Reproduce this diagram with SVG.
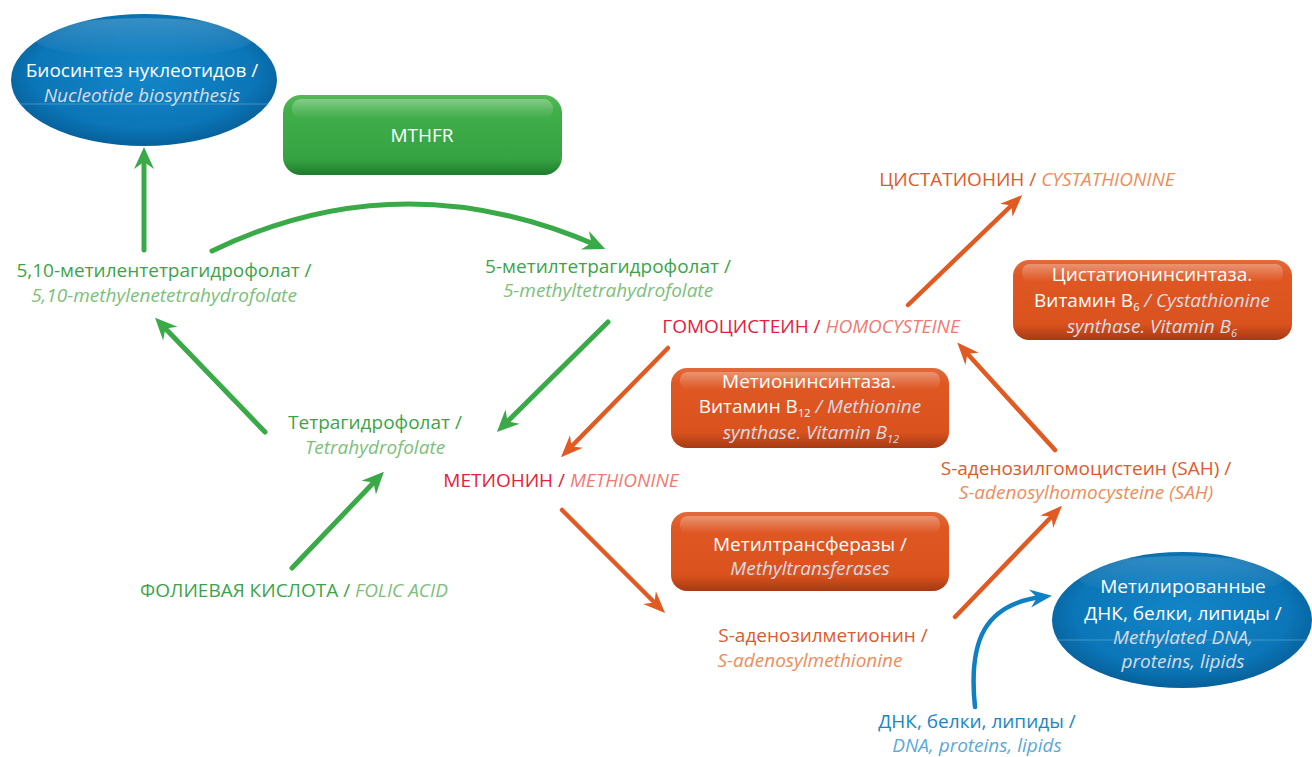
<svg xmlns="http://www.w3.org/2000/svg" width="1312" height="757" viewBox="0 0 1312 757">
<defs>
<style>
text{font-family:"Open Sans","Noto Sans","Liberation Sans",sans-serif;font-size:19px;text-anchor:middle}
.it{font-style:italic}
.gd{fill:#3aa548}.gl{fill:#7cc07a}
.rd{fill:#e4203c}.rl{fill:#f07a72}
.od{fill:#e05a2a}.ol{fill:#ef8c5a}
.bd{fill:#1a86c4}.bl{fill:#5aa9d8}
.w{fill:#ffffff}.wl{fill:#d9dde3}
.sub{font-size:11px}
.ga{fill:none;stroke:#3aaa48;stroke-width:5;stroke-linecap:round}
.oa{fill:none;stroke:#e05a22;stroke-width:4.5;stroke-linecap:round}
.ba{fill:none;stroke:#1180c2;stroke-width:4.5;stroke-linecap:round}
</style>
<marker id="mg" markerUnits="userSpaceOnUse" viewBox="-24 -12 26 24" refX="-10" refY="0" markerWidth="26" markerHeight="24" orient="auto"><path d="M0,0 L-22,-10 L-15,0 L-22,10 Z" fill="#3aaa48"/></marker>
<marker id="mo" markerUnits="userSpaceOnUse" viewBox="-24 -12 26 24" refX="-10" refY="0" markerWidth="26" markerHeight="24" orient="auto"><path d="M0,0 L-22,-9 L-15,0 L-22,9 Z" fill="#e05a22"/></marker>
<marker id="mb" markerUnits="userSpaceOnUse" viewBox="-24 -12 26 24" refX="-10" refY="0" markerWidth="26" markerHeight="24" orient="auto"><path d="M0,0 L-22,-9 L-15,0 L-22,9 Z" fill="#1180c2"/></marker>
<linearGradient id="gG" x1="0" y1="0" x2="0" y2="1">
<stop offset="0" stop-color="#55b955"/><stop offset="0.2" stop-color="#40ae49"/><stop offset="0.8" stop-color="#36a343"/><stop offset="1" stop-color="#1f7a2c"/>
</linearGradient>
<linearGradient id="gO" x1="0" y1="0" x2="0" y2="1">
<stop offset="0" stop-color="#e36a3a"/><stop offset="0.2" stop-color="#df5723"/><stop offset="0.8" stop-color="#da521d"/><stop offset="1" stop-color="#a53a14"/>
</linearGradient>
<linearGradient id="gH" x1="0" y1="0" x2="0" y2="1">
<stop offset="0" stop-color="#ffffff" stop-opacity="0.3"/><stop offset="1" stop-color="#ffffff" stop-opacity="0"/>
</linearGradient>
<radialGradient id="gB" cx="0.5" cy="0.45" r="0.55">
<stop offset="0" stop-color="#1386c8"/><stop offset="0.75" stop-color="#0b76b8"/><stop offset="1" stop-color="#07609a"/>
</radialGradient>
</defs>

<g id="connectors">
<path class="ga" d="M144,250 L144,157" marker-end="url(#mg)"/>
<path class="ga" d="M212,251 Q400,160 596,245" marker-end="url(#mg)"/>
<path class="ga" d="M608,322 L504,425" marker-end="url(#mg)"/>
<path class="ga" d="M265,432 L162,325" marker-end="url(#mg)"/>
<path class="ga" d="M292,568 L377,479" marker-end="url(#mg)"/>
<path class="oa" d="M668,348 L568,450" marker-end="url(#mo)"/>
<path class="oa" d="M562,510 L658,606" marker-end="url(#mo)"/>
<path class="oa" d="M908,305 L1015,202" marker-end="url(#mo)"/>
<path class="oa" d="M1055,450 L964,350" marker-end="url(#mo)"/>
<path class="oa" d="M955,617 L1055,513" marker-end="url(#mo)"/>
<path class="ba" d="M975,707 C968,640 985,604 1042,597" marker-end="url(#mb)"/>
</g>

<g id="nucleotide">
<ellipse cx="144" cy="80" rx="133" ry="66" fill="url(#gB)"/>
<ellipse cx="144" cy="38" rx="110" ry="20" fill="url(#gH)" opacity="0.6"/>
<line x1="18" y1="104" x2="270" y2="104" stroke="#7fb8de" stroke-width="1" opacity="0.5"/>
<text x="142" y="77" class="w">Биосинтез нуклеотидов /</text>
<text x="142" y="102" class="wl it">Nucleotide biosynthesis</text>
</g>

<g id="mthfr">
<rect x="283" y="95" width="279" height="80" rx="18" fill="url(#gG)"/>
<rect x="292" y="99" width="261" height="20" rx="9" fill="url(#gH)"/>
<text x="422" y="142" class="w">MTHFR</text>
</g>

<g id="methylene-thf">
<text x="164" y="277" class="gd">5,10-метилентетрагидрофолат /</text>
<text x="164" y="302" class="gl it">5,10-methylenetetrahydrofolate</text>
</g>

<g id="methyl-thf">
<text x="608" y="273" class="gd">5-метилтетрагидрофолат /</text>
<text x="608" y="297" class="gl it">5-methyltetrahydrofolate</text>
</g>

<g id="thf">
<text x="375" y="429" class="gd">Тетрагидрофолат /</text>
<text x="375" y="454" class="gl it">Tetrahydrofolate</text>
</g>

<g id="folic">
<text x="294" y="597"><tspan class="gd">ФОЛИЕВАЯ КИСЛОТА / </tspan><tspan class="gl it">FOLIC ACID</tspan></text>
</g>

<g id="methionine">
<text x="561" y="487"><tspan class="rd">МЕТИОНИН / </tspan><tspan class="rl it">METHIONINE</tspan></text>
</g>

<g id="homocysteine">
<text x="811" y="333"><tspan class="rd">ГОМОЦИСТЕИН / </tspan><tspan class="rl it">HOMOCYSTEINE</tspan></text>
</g>

<g id="cystathionine">
<text x="1027" y="186"><tspan class="od">ЦИСТАТИОНИН / </tspan><tspan class="ol it">CYSTATHIONINE</tspan></text>
</g>

<g id="cbs">
<rect x="1013" y="260" width="279" height="80" rx="16" fill="url(#gO)"/>
<rect x="1022" y="264" width="261" height="18" rx="8" fill="url(#gH)"/>
<text x="1152" y="281" class="w">Цистатионинсинтаза.</text>
<text x="1152" y="307"><tspan class="w">Витамин B</tspan><tspan class="w sub" dy="4">6</tspan><tspan class="wl it" dy="-4"> / Cystathionine</tspan></text>
<text x="1152" y="333" class="wl it">synthase. Vitamin B<tspan class="sub" dy="4">6</tspan></text>
</g>

<g id="ms">
<rect x="671" y="368" width="278" height="80" rx="16" fill="url(#gO)"/>
<rect x="680" y="372" width="260" height="18" rx="8" fill="url(#gH)"/>
<text x="809" y="388" class="w">Метионинсинтаза.</text>
<text x="810" y="413"><tspan class="w">Витамин B</tspan><tspan class="w sub" dy="4">12</tspan><tspan class="wl it" dy="-4"> / Methionine</tspan></text>
<text x="811" y="439" class="wl it">synthase. Vitamin B<tspan class="sub" dy="4">12</tspan></text>
</g>

<g id="mt">
<rect x="671" y="512" width="278" height="79" rx="16" fill="url(#gO)"/>
<rect x="680" y="516" width="260" height="18" rx="8" fill="url(#gH)"/>
<text x="810" y="551" class="w">Метилтрансферазы /</text>
<text x="810" y="575" class="wl it">Methyltransferases</text>
</g>

<g id="sah">
<text x="1086" y="475" class="od">S-аденозилгомоцистеин (SAH) /</text>
<text x="1086" y="499" class="ol it">S-adenosylhomocysteine (SAH)</text>
</g>

<g id="sam">
<text x="823" y="642" class="od">S-аденозилметионин /</text>
<text x="810" y="667" class="ol it">S-adenosylmethionine</text>
</g>

<g id="methylated">
<ellipse cx="1182" cy="620" rx="130" ry="68" fill="url(#gB)"/>
<ellipse cx="1182" cy="576" rx="105" ry="20" fill="url(#gH)" opacity="0.5"/>
<line x1="1056" y1="640" x2="1308" y2="640" stroke="#7fb8de" stroke-width="1" opacity="0.5"/>
<text x="1183" y="593" class="w">Метилированные</text>
<text x="1183" y="620" class="w">ДНК, белки, липиды /</text>
<text x="1183" y="644" class="wl it">Methylated DNA,</text>
<text x="1183" y="668" class="wl it">proteins, lipids</text>
</g>

<g id="dna">
<text x="977" y="728" class="bd">ДНК, белки, липиды /</text>
<text x="977" y="752" class="bl it">DNA, proteins, lipids</text>
</g>
</svg>
